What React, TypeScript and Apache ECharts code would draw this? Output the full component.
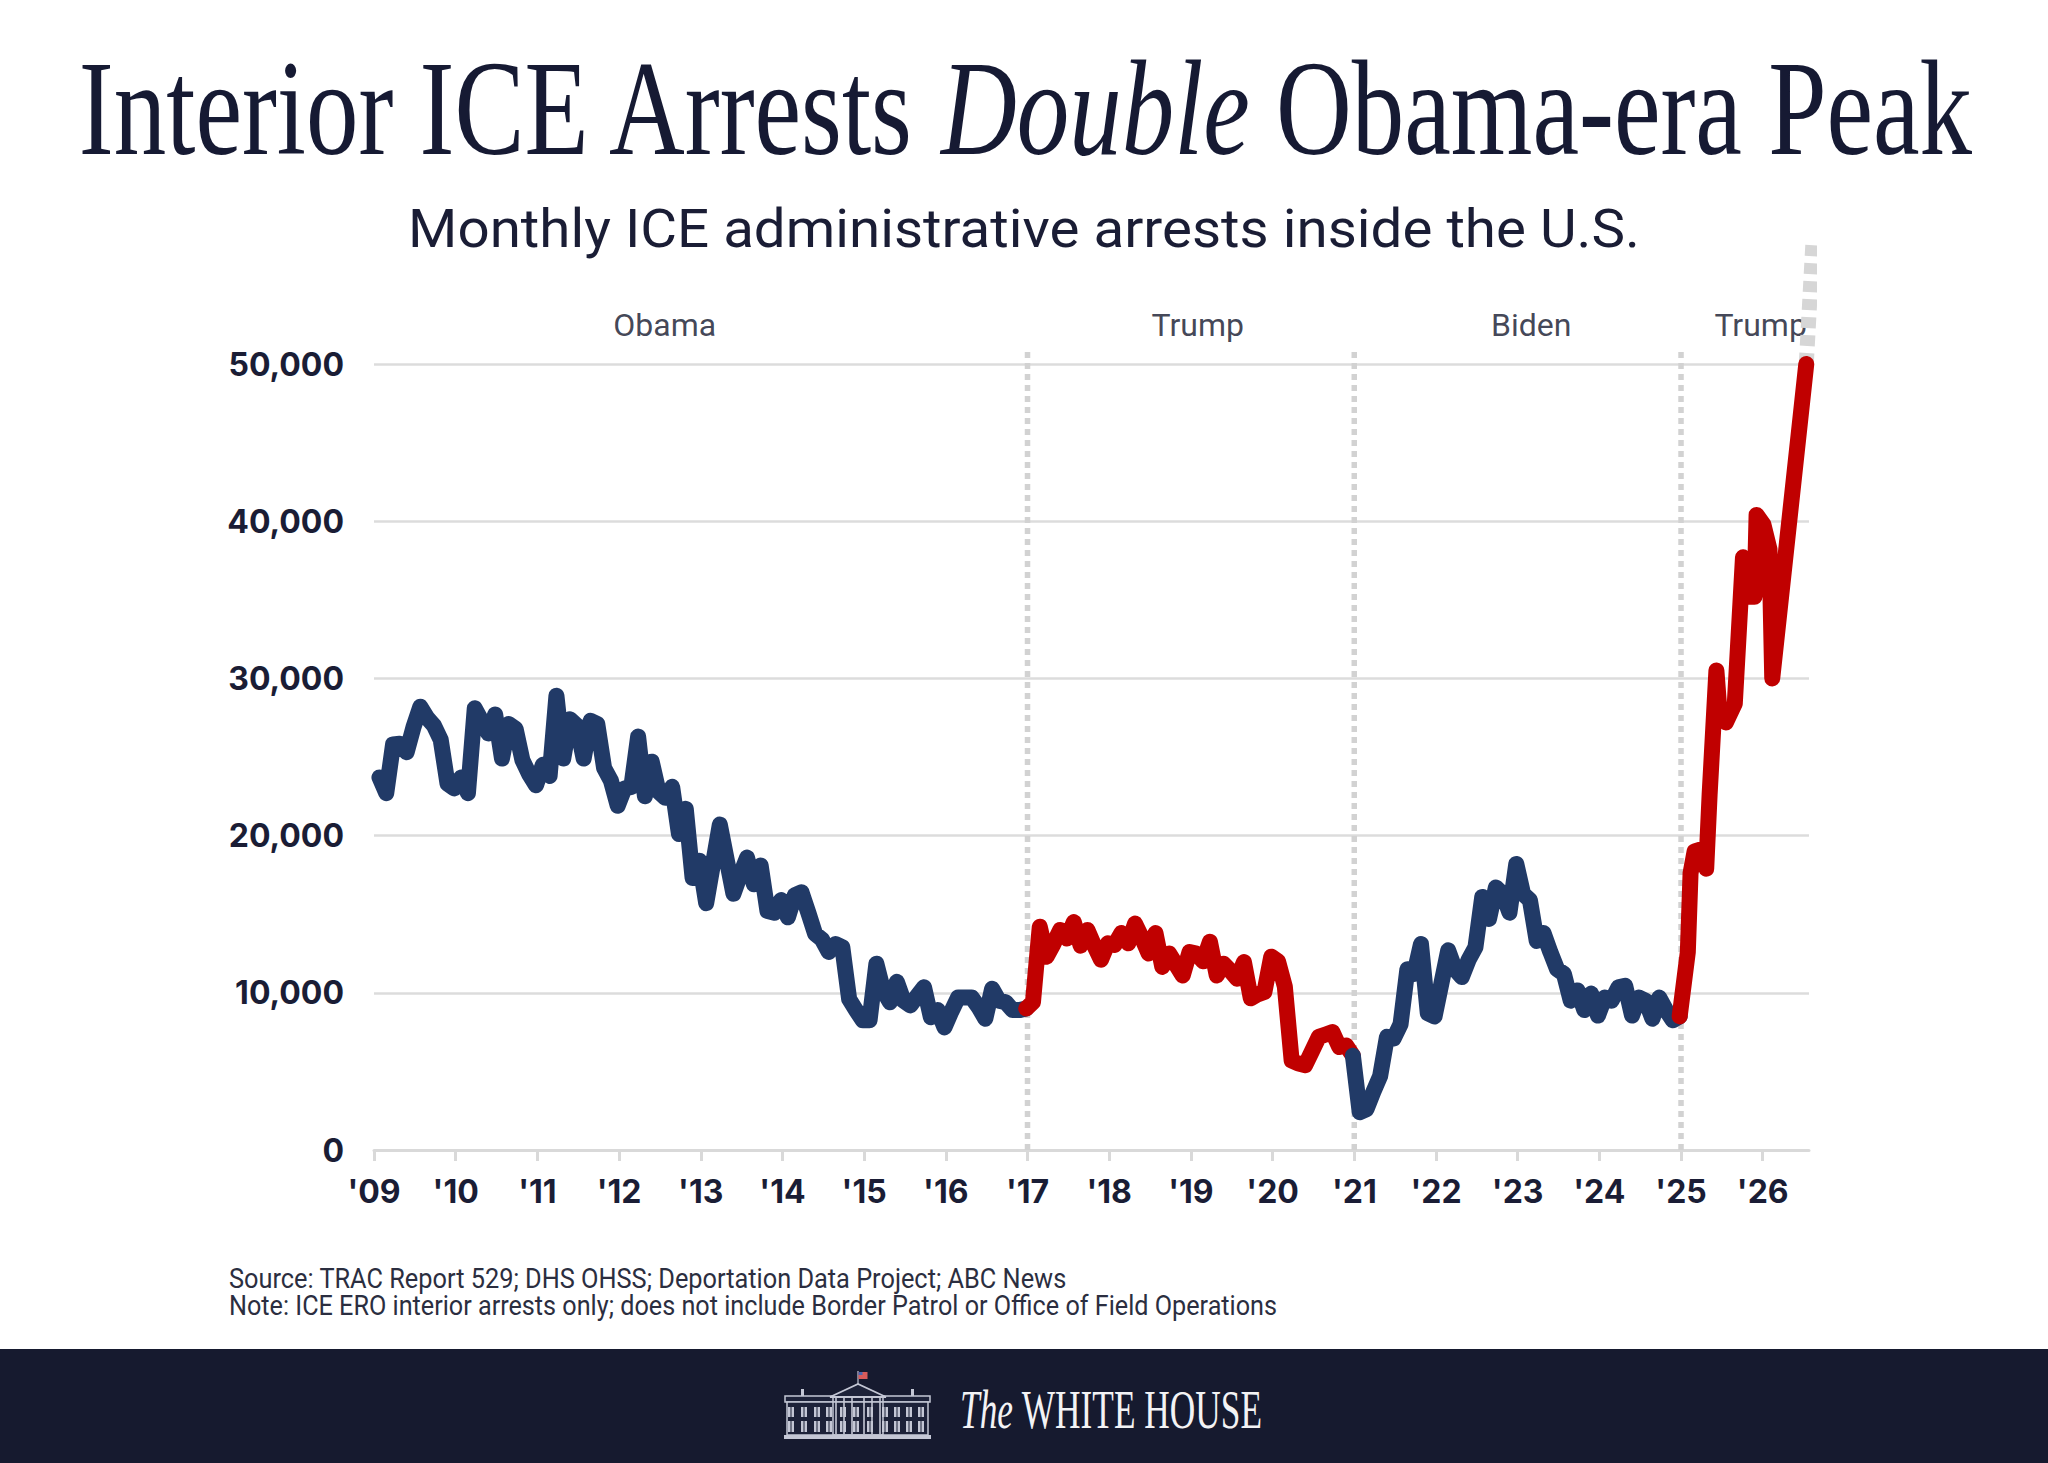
import React, { useEffect, useRef } from "react";
import * as echarts from "echarts";

// ---------- data ----------
// x-axis tick labels (one per January, 2009..2026)
const yearLabels = ["'09", "'10", "'11", "'12", "'13", "'14", "'15", "'16", "'17", "'18", "'19", "'20", "'21", "'22", "'23", "'24", "'25", "'26"];
const yTickValues = [0, 10000, 20000, 30000, 40000, 50000];

// Monthly ICE interior arrests, Jan 2009 - Dec 2016 (Obama)
const obamaArrests = [
  23700, 22700, 25800, 25850, 25300, 26900, 28200, 27500, 27000, 26100, 23300, 23000,
  23700, 22700, 28100, 27300, 26500, 27700, 24900, 27100, 26800, 24800, 23900, 23200,
  24500, 23800, 28900, 24900, 27400, 27000, 24900, 27300, 27100, 24300, 23500, 21900,
  23000, 23100, 26300, 22500, 24700, 22800, 22400, 23100, 20100, 21700, 17300, 18400,
  15700, 18200, 20700, 18500, 16300, 17500, 18600, 16900, 18100, 15200, 15100, 15900,
  14800, 16200, 16400, 15100, 13750, 13400, 12600, 13100, 12900, 9600, 8900, 8250,
  8250, 11850, 10150, 9400, 10700, 9500, 9200, 9800, 10350, 8450, 8900, 7800,
  8800, 9700, 9700, 9700, 9100, 8350, 10250, 9500, 9400, 8900, 8900, 9000,
];

// Jan 2017 - Dec 2020 (Trump, first term)
const trumpFirstArrests = [
  9400, 14200, 12300, 13100, 14000, 13450, 14500, 13000, 14000, 13000, 12100, 13150,
  13050, 13800, 13150, 14400, 13500, 12500, 13800, 11650, 12500, 11800, 11100, 12600,
  12500, 12000, 13250, 11100, 11850, 11400, 10900, 11950, 9650, 9900, 10050, 12300,
  12000, 10400, 5700, 5500, 5400, 6300, 7200, 7350, 7500, 6550, 6650, 6000,
];

// Jan 2021 - Dec 2024 (Biden)
const bidenArrests = [
  2400, 2600, 3700, 4700, 7200, 7100, 8000, 11500, 11200, 13100, 8700, 8500,
  10600, 12700, 11500, 11000, 12100, 12900, 16100, 14700, 16700, 16300, 15100, 18200,
  16300, 15900, 13300, 13800, 12600, 11500, 11200, 9500, 10150, 8900, 9950, 8550,
  9700, 9500, 10350, 10450, 8550, 9700, 9500, 8350, 9700, 8900, 8250, 8500,
];

// 2025-2026 (Trump, second term): position in months since Jan 2009, arrests
const trumpSecondMonths = [193.0, 193.4, 194.0, 194.8, 195.7, 196.2, 197.2, 197.7, 198.6, 199.9, 201.1, 201.9, 202.8, 203.1, 204.1, 205.0, 205.4, 210.4];
const trumpSecondArrests = [12600, 17600, 19000, 19100, 17900, 22600, 30500, 27600, 27200, 28400, 37700, 35200, 35200, 40400, 39800, 38200, 30000, 50000];

// off-scale continuation
const projectionMonths = [210.4, 211.4];
const projectionArrests = [50000, 57900];

// presidential terms
const termStartMonths = [96, 144, 192];
const termLineTop = 51000;
const presidentNames = ["Obama", "Trump", "Biden", "Trump"];
const presidentLabelMonths = [42.7, 121, 170, 203.7];
const presidentLabelLevel = 52500;

// ---------- styles ----------
const INK = "#1a1d35";
const NAVY = "#213a67";
const RED = "#c00000";
const MONTH_OFFSET = 0.8;

function textWidth(style: any): number {
  const t = new (echarts.graphic as any).Text({ style });
  return t.getBoundingRect().width;
}

export default function App() {
  const ref = useRef<HTMLDivElement>(null);

  useEffect(() => {
    document.body.style.margin = "0";
    if (!ref.current) return;
    const chart = echarts.init(ref.current, undefined, { renderer: "svg" });

    const obamaData = obamaArrests.map((v, k) => [k + MONTH_OFFSET, v]);
    const trump1Data = [obamaData[obamaData.length - 1], ...trumpFirstArrests.map((v, k) => [96 + k + MONTH_OFFSET, v])];
    const bidenData = [trump1Data[trump1Data.length - 1], ...bidenArrests.map((v, k) => [144 + k + MONTH_OFFSET, v])];
    const trump2Data = [bidenData[bidenData.length - 1], ...trumpSecondMonths.map((m, k) => [m, trumpSecondArrests[k]])];
    const projData = projectionMonths.map((m, k) => [m, projectionArrests[k]]);

    const yearTicks = yearLabels.map((_, k) => k * 12);

    // --- texts fitted to width ---
    const titleText = "{n|Interior ICE Arrests }{i|Double}{n| Obama-era Peak}";
    const titleRich = {
      n: { fontFamily: "Liberation Serif", fontSize: 135, fill: "#161a33" },
      i: { fontFamily: "Liberation Serif", fontSize: 135, fontStyle: "italic", fill: "#161a33" },
    };
    const titleW = textWidth({ text: titleText, rich: titleRich });
    const titleScale = 1896 / titleW;

    const subText = "Monthly ICE administrative arrests inside the U.S.";
    const subStyle = { fontFamily: "Roboto", fontSize: 53 };
    const subScale = 1232 / textWidth({ text: subText, ...subStyle });

    const srcText = "Source: TRAC Report 529; DHS OHSS; Deportation Data Project; ABC News";
    const noteText = "Note: ICE ERO interior arrests only; does not include Border Patrol or Office of Field Operations";
    const noteStyle = { fontFamily: "Roboto", fontSize: 28 };
    const srcScale = 838 / textWidth({ text: srcText, ...noteStyle });
    const noteScale = 1049 / textWidth({ text: noteText, ...noteStyle });

    const whText = "{a|The }{b|WHITE HOUSE}";
    const whRich = {
      a: { fontFamily: "Liberation Serif", fontSize: 55, fontStyle: "italic", fill: "#f3f3f5" },
      b: { fontFamily: "Liberation Serif", fontSize: 55, fill: "#f3f3f5" },
    };
    const whScale = 302 / textWidth({ text: whText, rich: whRich });

    // --- White House building icon ---
    const B = "#c4c7d5";
    const D = "#1d2239";
    const winX = [7, 20, 33, 45, 59, 72, 86, 101, 113, 125, 137];
    const windows: any[] = [];
    winX.forEach((wx) => {
      windows.push({ type: "rect", shape: { x: wx - 3, y: 36, width: 6, height: 10 }, style: { fill: B } });
      windows.push({ type: "rect", shape: { x: wx - 3, y: 50, width: 6, height: 11 }, style: { fill: B } });
      windows.push({ type: "line", shape: { x1: wx, y1: 36, x2: wx, y2: 61 }, style: { stroke: D, lineWidth: 1 } });
    });
    const columns: any[] = [52, 60, 68, 80, 88, 96].map((cx) => ({
      type: "line", shape: { x1: cx, y1: 27, x2: cx, y2: 63 }, style: { stroke: B, lineWidth: 1.6 },
    }));
    const building = {
      type: "group",
      x: 784,
      y: 1371,
      children: [
        { type: "line", shape: { x1: 74, y1: 0, x2: 74, y2: 14 }, style: { stroke: B, lineWidth: 1.2 } },
        { type: "rect", shape: { x: 74.5, y: 1, width: 9, height: 7 }, style: { fill: "#d85b5b" } },
        { type: "rect", shape: { x: 74.5, y: 1, width: 4, height: 3 }, style: { fill: "#4a66b0" } },
        { type: "rect", shape: { x: 17, y: 18, width: 3, height: 8 }, style: { fill: B } },
        { type: "rect", shape: { x: 127, y: 18, width: 3, height: 8 }, style: { fill: B } },
        { type: "rect", shape: { x: 1, y: 25, width: 145, height: 6 }, style: { fill: D, stroke: B, lineWidth: 1.5 } },
        { type: "rect", shape: { x: 3, y: 31, width: 141, height: 33 }, style: { fill: D, stroke: B, lineWidth: 1.5 } },
        ...windows,
        { type: "rect", shape: { x: 49, y: 25, width: 50, height: 39 }, style: { fill: "none", stroke: B, lineWidth: 1.5 } },
        ...columns,
        { type: "polygon", shape: { points: [[46, 26], [74, 13], [102, 26]] }, style: { fill: D, stroke: B, lineWidth: 1.8 } },
        { type: "rect", shape: { x: 0, y: 64, width: 147, height: 4 }, style: { fill: B } },
      ],
    };

    const lineSeries = (name: string, data: any[], color: string) => ({
      name,
      type: "line",
      data,
      z: 3,
      clip: false,
      symbol: "none",
      showSymbol: false,
      silent: true,
      lineStyle: { color, width: 16, cap: "round", join: "round" },
      emphasis: { disabled: true },
    });

    const termLines = termStartMonths.map((m, k) => ({
      name: "term" + k,
      type: "line",
      data: [
        [m, 0],
        [m, termLineTop],
      ],
      z: 1,
      clip: false,
      symbol: "none",
      silent: true,
      lineStyle: { color: "#d2d2d2", width: 5.5, type: [6, 5], cap: "butt" },
    }));

    const option: any = {
      animation: false,
      backgroundColor: "#ffffff",
      grid: { left: 374, right: 239, top: 364, bottom: 313 },
      xAxis: {
        type: "value",
        min: 0,
        max: 210.8,
        interval: 12,
        axisLine: { show: true, lineStyle: { color: "#d9d9d9", width: 3 } },
        axisTick: { show: true, length: 11, lineStyle: { color: "#d9d9d9", width: 3 }, customValues: yearTicks },
        axisLabel: {
          customValues: yearTicks,
          formatter: (v: number) => yearLabels[Math.round(v / 12)] ?? "",
          fontFamily: "Inter",
          fontWeight: 700,
          fontSize: 32,
          color: INK,
          margin: 25,
        },
        splitLine: { show: false },
      },
      yAxis: {
        type: "value",
        min: 0,
        max: 50000,
        interval: 10000,
        axisLine: { show: false },
        axisTick: { show: false },
        axisLabel: {
          formatter: (v: number) => (yTickValues.includes(v) ? v.toLocaleString("en-US") : ""),
          fontFamily: "Inter",
          fontWeight: 700,
          fontSize: 32,
          color: INK,
          margin: 30,
        },
        splitLine: { show: true, lineStyle: { color: "#dcdcdc", width: 2.5 } },
      },
      series: [
        ...termLines,
        {
          name: "presidents",
          type: "scatter",
          z: 1,
          clip: false,
          silent: true,
          symbolSize: 0,
          data: presidentNames.map((p, k) => ({ name: p, value: [presidentLabelMonths[k], presidentLabelLevel] })),
          label: {
            show: true,
            position: "inside",
            formatter: "{b}",
            fontFamily: "Roboto",
            fontSize: 32,
            color: "#12152b",
          },
        },
        lineSeries("Obama", obamaData, NAVY),
        lineSeries("Trump 1", trump1Data, RED),
        lineSeries("Biden", bidenData, NAVY),
        lineSeries("Trump 2", trump2Data, RED),
        {
          name: "off scale",
          type: "line",
          data: projData,
          z: 2,
          clip: false,
          symbol: "none",
          silent: true,
          lineStyle: { color: "#d6d6d6", width: 15, type: [11, 7], cap: "butt" },
        },
      ],
      graphic: [
        { type: "rect", z: -1, shape: { x: 0, y: 1349, width: 2048, height: 114 }, style: { fill: "#161a2f" } },
        {
          type: "text",
          x: 1024,
          y: 108,
          scaleX: titleScale,
          style: { text: titleText, rich: titleRich, align: "center", verticalAlign: "middle" },
        },
        {
          type: "text",
          x: 1024,
          y: 229,
          scaleX: subScale,
          style: { text: subText, ...subStyle, fill: INK, align: "center", verticalAlign: "middle" },
        },
        {
          type: "text",
          x: 229,
          y: 1279,
          scaleX: srcScale,
          style: { text: srcText, ...noteStyle, fill: "#2b2e40", align: "left", verticalAlign: "middle" },
        },
        {
          type: "text",
          x: 229,
          y: 1306,
          scaleX: noteScale,
          style: { text: noteText, ...noteStyle, fill: "#2b2e40", align: "left", verticalAlign: "middle" },
        },
        building,
        {
          type: "text",
          x: 960,
          y: 1410,
          scaleX: whScale,
          style: { text: whText, rich: whRich, align: "left", verticalAlign: "middle" },
        },
      ],
    };

    chart.setOption(option);
    return () => chart.dispose();
  }, []);

  return <div ref={ref} style={{ width: 2048, height: 1463 }} />;
}
